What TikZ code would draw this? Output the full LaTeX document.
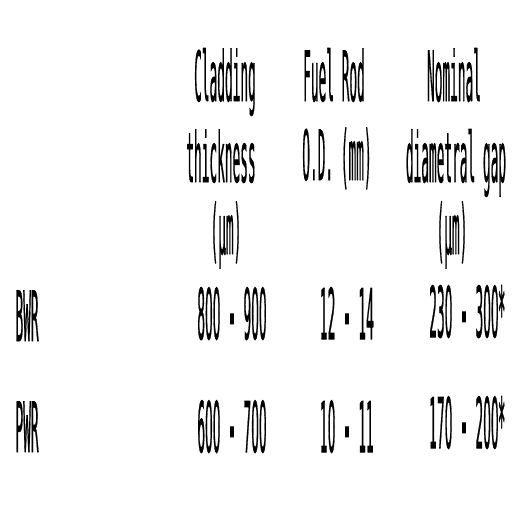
\documentclass[tikz,border=0pt]{standalone}
\usepackage{tikz}
\usepackage{graphicx}
\usepackage{fontspec}
\setmonofont[FakeBold=1.2]{DejaVu Sans Mono}
\newfontfamily\numfont[FakeBold=1.5]{DejaVu Sans}
\tikzset{every picture/.style={line width=0.75pt}}
\tikzset{cell/.style={font=\ttfamily\fontsize{9.6}{10}\selectfont, inner sep=0pt, anchor=base}}
\tikzset{numcell/.style={cell, font=\numfont\fontsize{9.1}{10}\selectfont}}
\newcommand{\tallt}[1]{\scalebox{1}[5.4]{#1}}
\newcommand{\talln}[2]{\scalebox{1}[5.75]{#1\makebox[1.9em]{\bfseries-}#2}}

\begin{document}
\begin{tikzpicture}[x=0.75pt,y=0.75pt,yscale=-1,xscale=1]
		\useasboundingbox (0,0) rectangle (512,512);
		
		%Text Node - header cladding
		\node [cell] (cladA) at (225,101) {\tallt{Cladding}};
		\node [cell] (cladB) at (221,182) {\tallt{thickness}};
		\node [cell] (cladC) at (226,254) {\tallt{(µm)}};
		
		%Text Node - header rod
		\node [cell] (rodA) at (334,101) {\tallt{Fuel Rod}};
		\node [cell] (rodB) at (337,180) {\tallt{O.D. (mm)}};
		
		%Text Node - header gap
		\node [cell] (gapA) at (454,101) {\tallt{Nominal}};
		\node [cell] (gapB) at (456,182) {\tallt{diametral gap}};
		\node [cell] (gapC) at (452,254) {\tallt{(µm)}};
		
		%Text Node - row bwr
		\node [cell, anchor=base west] (bwr) at (15,341) {\tallt{BWR}};
		\node [numcell] (bwrClad) at (232,339) {\talln{800}{900}};
		\node [numcell] (bwrRod) at (347,339) {\talln{12}{14}};
		\node [numcell] (bwrGap) at (467,337) {\talln{230}{300*}};
		
		%Text Node - row pwr
		\node [cell, anchor=base west] (pwr) at (15,452) {\tallt{PWR}};
		\node [numcell] (pwrClad) at (232,452) {\talln{600}{700}};
		\node [numcell] (pwrRod) at (347,452) {\talln{10}{11}};
		\node [numcell] (pwrGap) at (467,448) {\talln{170}{200*}};
		
\end{tikzpicture}
\end{document}
